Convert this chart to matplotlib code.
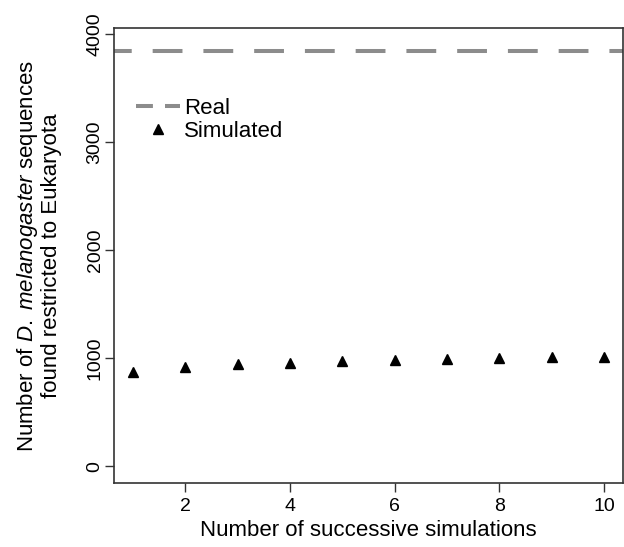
#!/usr/bin/env python

import numpy as np
import matplotlib
matplotlib.use('Agg')
import matplotlib.pyplot as plt
from matplotlib.lines import Line2D

plt.rcParams['font.family'] = ['Liberation Sans', 'DejaVu Sans']
plt.rcParams['mathtext.fontset'] = 'custom'
plt.rcParams['mathtext.rm'] = 'Liberation Sans'
plt.rcParams['mathtext.it'] = 'Liberation Sans:italic'

# successive simulation runs vs. count of sequences restricted to Eukaryota
runs = [1, 2, 3, 4, 5, 6, 7, 8, 9, 10]
simulated = [871, 917, 942, 958, 970, 979, 991, 998, 1007, 1013]
real = 3840

fig = plt.figure(figsize=(6.24, 5.47), dpi=100)
ax = fig.add_axes([114/624, 64/547, 509/624, 455/547])

ax.axhline(real, color='#8c8c8c', lw=2.9, ls=(3.0, (7.4, 5.2)), dash_capstyle='butt')
ax.plot(runs, simulated, '^', color='black', ms=7, mec='black')

ax.set_xlim(0.64, 10.36)
ax.set_ylim(-156, 4056)
ax.set_xticks([2, 4, 6, 8, 10])
ax.set_yticks([0, 1000, 2000, 3000, 4000])
ax.tick_params(direction='out', length=6.5, width=1, labelsize=14, color='#333333', pad=4)
ax.tick_params(axis='y', pad=1)
for lab in ax.get_yticklabels():
	lab.set_rotation(90)
	lab.set_va('center')
for s in ax.spines.values():
	s.set_linewidth(1.2)
	s.set_color('#333333')

ax.set_xlabel('Number of successive simulations', fontsize=16, labelpad=4)
ax.set_ylabel('Number of $\\it{D.\\ melanogaster}$ sequences\nfound restricted to Eukaryota',
	fontsize=16, labelpad=18, linespacing=1.05)

handles = [Line2D([], [], color='#8c8c8c', lw=2.9, dashes=(4.2, 3.0)),
	Line2D([], [], ls='none', marker='^', color='black', ms=6.5)]
ax.legend(handles, ['Real', 'Simulated'], loc='upper left', bbox_to_anchor=(0.003, 0.89),
	frameon=False, fontsize=16, handlelength=2.0, handletextpad=0.2, labelspacing=0.1)

plt.savefig('out.png', dpi=100)
